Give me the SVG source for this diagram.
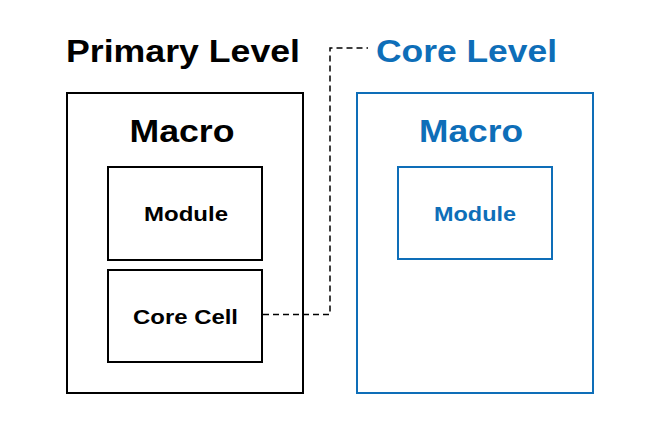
<svg xmlns="http://www.w3.org/2000/svg" width="660" height="444" viewBox="0 0 660 444">
<style>
text{font-family:"Liberation Sans",Arial,sans-serif;font-weight:bold;text-anchor:middle}
.k{fill:#000}
.b{fill:#0e6eb8}
.bx{fill:none;stroke-width:2}
.kb{stroke:#000}
.bb{stroke:#0e6eb8}
.t{font-size:31.5px}
.m{font-size:30.5px}
.s{font-size:19.5px}
</style>
<rect width="660" height="444" fill="#fff"/>
<g id="primary-level"><text class="k t" x="183" y="62" textLength="234" lengthAdjust="spacingAndGlyphs">Primary Level</text></g>
<g id="core-level"><text class="b t" x="466.5" y="62" textLength="181" lengthAdjust="spacingAndGlyphs">Core Level</text></g>
<g id="primary-macro"><rect class="bx kb" x="67" y="93" width="236" height="300"/><text class="k m" x="182" y="142" textLength="105" lengthAdjust="spacingAndGlyphs">Macro</text></g>
<g id="primary-module"><rect class="bx kb" x="108" y="167" width="154" height="93"/><text class="k s" x="186" y="221" textLength="84" lengthAdjust="spacingAndGlyphs">Module</text></g>
<g id="core-cell"><rect class="bx kb" x="108" y="270" width="154" height="92"/><text class="k s" x="185.5" y="323.5" textLength="105" lengthAdjust="spacingAndGlyphs">Core Cell</text></g>
<g id="core-macro"><rect class="bx bb" x="357" y="93" width="236" height="300"/><text class="b m" x="471" y="142" textLength="104" lengthAdjust="spacingAndGlyphs">Macro</text></g>
<g id="core-module"><rect class="bx bb" x="398" y="167" width="154" height="92"/><text class="b s" x="475" y="221" textLength="82" lengthAdjust="spacingAndGlyphs">Module</text></g>
<g id="connectors"><polyline points="263,314.5 330,314.5 330,48 368,48" fill="none" stroke="#000" stroke-width="1.5" stroke-dasharray="6,4"/></g>
</svg>
